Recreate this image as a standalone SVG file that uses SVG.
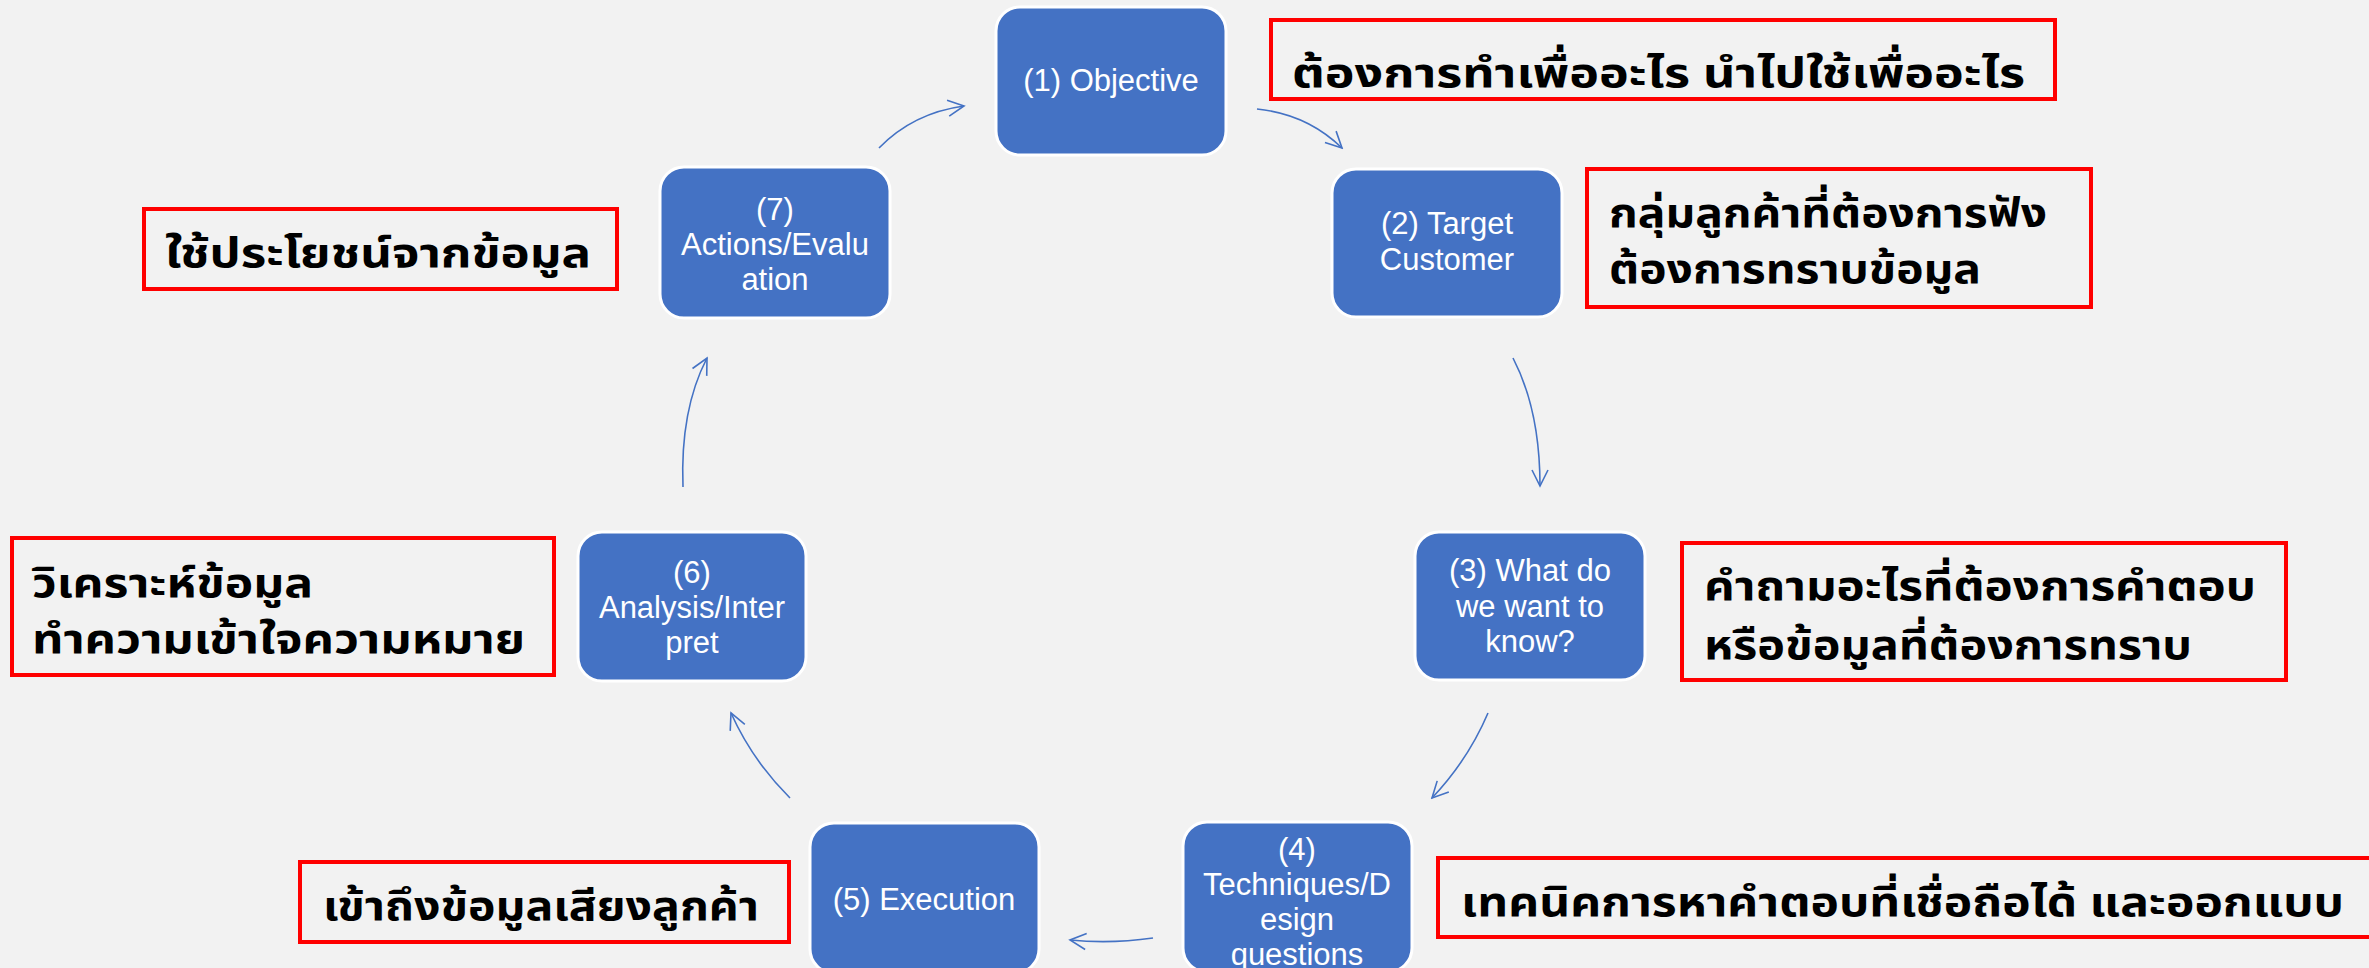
<svg xmlns="http://www.w3.org/2000/svg" width="2369" height="968" viewBox="0 0 2369 968">
<style>
.node rect{fill:#4472C4;stroke:#FFFFFF;stroke-width:3}
.node text{fill:#FFFFFF;font-family:"Liberation Sans","Open Sans",sans-serif;font-size:31px;text-anchor:middle}
.note rect{fill:none;stroke:#FF0000;stroke-width:4}
.note text{fill:#000000;font-family:"Noto Sans Thai","Noto Sans Thai UI","Noto Sans","DejaVu Sans",sans-serif;font-weight:bold;font-size:41px}
.conn path{fill:none;stroke:#4472C4;stroke-width:1.6}
</style>
<defs>
<marker id="arr" viewBox="0 0 20 20" refX="18" refY="10" markerWidth="20" markerHeight="20" markerUnits="userSpaceOnUse" orient="auto">
<path d="M2,2 L18,10 L2,18" fill="none" stroke="#4472C4" stroke-width="1.6"/>
</marker>
</defs>
<rect x="0" y="0" width="2369" height="968" fill="#F2F2F2"/>
<g class="conn">
<path d="M879,148 Q913,113 964,106" marker-end="url(#arr)"/>
<path d="M1257,109 Q1307,114 1342,148" marker-end="url(#arr)"/>
<path d="M1513,358 Q1540,410 1540,486" marker-end="url(#arr)"/>
<path d="M1488,713 Q1468,760 1432,798" marker-end="url(#arr)"/>
<path d="M1153,938 Q1111,944 1070,940" marker-end="url(#arr)"/>
<path d="M790,798 Q752,760 731,713" marker-end="url(#arr)"/>
<path d="M683,487 Q680,410 707,358" marker-end="url(#arr)"/>
</g>
<g id="n1" class="node"><rect x="996" y="7" width="230" height="148" rx="24"/><text x="1111" y="91">(1) Objective</text></g>
<g id="n2" class="node"><rect x="1332" y="169" width="230" height="148" rx="24"/><text x="1447" y="234">(2) Target</text><text x="1447" y="270">Customer</text></g>
<g id="n3" class="node"><rect x="1415" y="532" width="230" height="148" rx="24"/><text x="1530" y="581">(3) What do</text><text x="1530" y="617">we want to</text><text x="1530" y="652">know?</text></g>
<g id="n4" class="node"><rect x="1183" y="822" width="229" height="150" rx="24"/><text x="1297" y="860">(4)</text><text x="1297" y="895">Techniques/D</text><text x="1297" y="930">esign</text><text x="1297" y="965">questions</text></g>
<g id="n5" class="node"><rect x="810" y="823" width="229" height="150" rx="24"/><text x="924" y="910">(5) Execution</text></g>
<g id="n6" class="node"><rect x="578" y="532" width="228" height="149" rx="24"/><text x="692" y="583">(6)</text><text x="692" y="618">Analysis/Inter</text><text x="692" y="653">pret</text></g>
<g id="n7" class="node"><rect x="660" y="167" width="230" height="151" rx="24"/><text x="775" y="220">(7)</text><text x="775" y="255">Actions/Evalu</text><text x="775" y="290">ation</text></g>
<g id="t1" class="note"><rect x="1271" y="20" width="784" height="79"/><text x="1292" y="87" textLength="733" lengthAdjust="spacingAndGlyphs">ต้องการทำเพื่ออะไร นำไปใช้เพื่ออะไร</text></g>
<g id="t2" class="note"><rect x="1587" y="169" width="504" height="138"/><text x="1609" y="227" textLength="438" lengthAdjust="spacingAndGlyphs">กลุ่มลูกค้าที่ต้องการฟัง</text><text x="1609" y="283" textLength="372" lengthAdjust="spacingAndGlyphs">ต้องการทราบข้อมูล</text></g>
<g id="t3" class="note"><rect x="1682" y="543" width="604" height="137"/><text x="1704" y="600" textLength="552" lengthAdjust="spacingAndGlyphs">คำถามอะไรที่ต้องการคำตอบ</text><text x="1704" y="659" textLength="488" lengthAdjust="spacingAndGlyphs">หรือข้อมูลที่ต้องการทราบ</text></g>
<g id="t4" class="note"><rect x="1438" y="858" width="960" height="79"/><text x="1461" y="916" textLength="883" lengthAdjust="spacingAndGlyphs">เทคนิคการหาคำตอบที่เชื่อถือได้ และออกแบบ</text></g>
<g id="t5" class="note"><rect x="300" y="862" width="489" height="80"/><text x="323" y="920" textLength="436" lengthAdjust="spacingAndGlyphs">เข้าถึงข้อมูลเสียงลูกค้า</text></g>
<g id="t6" class="note"><rect x="12" y="538" width="542" height="137"/><text x="32" y="597" textLength="281" lengthAdjust="spacingAndGlyphs">วิเคราะห์ข้อมูล</text><text x="32" y="653" textLength="493" lengthAdjust="spacingAndGlyphs">ทำความเข้าใจความหมาย</text></g>
<g id="t7" class="note"><rect x="144" y="209" width="473" height="80"/><text x="165" y="267" textLength="426" lengthAdjust="spacingAndGlyphs">ใช้ประโยชน์จากข้อมูล</text></g>
</svg>
